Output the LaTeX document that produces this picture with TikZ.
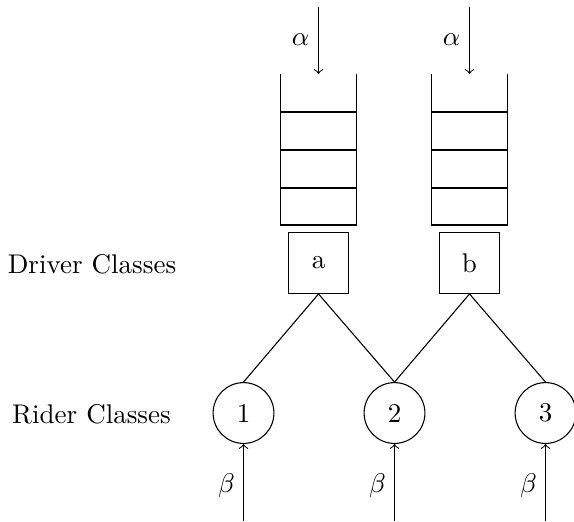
\documentclass[tikz,border=0pt]{standalone}
\usetikzlibrary{arrows}
\begin{document}
\begin{tikzpicture}[x=0.37pt,y=-0.37pt,
  server/.style={draw,rectangle,inner sep=0pt,minimum size=22.5pt},
  rider/.style={draw,circle,inner sep=0pt,minimum size=22.5pt},
  qline/.style={draw},
  feed/.style={->}]
\useasboundingbox (0,0) rectangle (574,521);
% labels
\node (dl) at (92,264) {Driver Classes};
\node (rl) at (91.5,414) {Rider Classes};
% queues
\foreach \n/\cx in {qa/318.5,qb/469.5}{
  \coordinate (\n-tl) at (\cx-37.75,74);
  \coordinate (\n-tr) at (\cx+37.75,74);
  \coordinate (\n-bl) at (\cx-37.75,225);
  \coordinate (\n-br) at (\cx+37.75,225);
  \draw[qline] (\n-tl) -- (\n-bl) -- (\n-br) -- (\n-tr);
  \foreach \yy in {112,150,188}{\draw[qline] (\cx-37.75,\yy) -- (\cx+37.75,\yy);}
  \coordinate (\n-in) at (\cx,7);
  \coordinate (\n-top) at (\cx,74);
  \draw[feed] (\n-in) -- (\n-top);
  \node (\n-lab) at (\cx-18,40) {$\alpha$};
}
% servers
\node[server] (a) at (318.5,263) {a};
\node[server] (b) at (469.5,263) {b};
% riders
\node[rider] (r1) at (243.5,413) {1};
\node[rider] (r2) at (394.5,413) {2};
\node[rider] (r3) at (545.5,413) {3};
% edges
\draw (a.south) -- (r1.north);
\draw (a.south) -- (r2.north);
\draw (b.south) -- (r2.north);
\draw (b.south) -- (r3.north);
% rider arrivals
\foreach \r/\cx in {r1/243.5,r2/394.5,r3/545.5}{
  \coordinate (\r-src) at (\cx,521);
  \draw[feed] (\r-src) -- (\r.south);
  \node (\r-lab) at (\cx-17,486) {$\beta$};
}
\end{tikzpicture}
\end{document}
